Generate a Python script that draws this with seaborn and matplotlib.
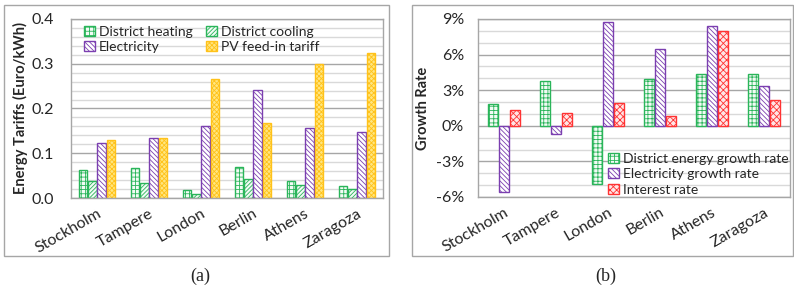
import matplotlib
matplotlib.use("Agg")
import matplotlib.pyplot as plt
import matplotlib.ticker as mticker
from matplotlib.patches import Rectangle
import pandas as pd
import seaborn as sns

cities = ["Stockholm", "Tampere", "London", "Berlin", "Athens", "Zaragoza"]

# panel (a) - energy tariffs, Euro/kWh
district_heating = [0.063, 0.068, 0.017, 0.070, 0.038, 0.027]
district_cooling = [0.038, 0.034, 0.010, 0.043, 0.028, 0.021]
electricity = [0.124, 0.133, 0.160, 0.241, 0.157, 0.148]
pv_feed_in = [0.130, 0.133, 0.266, 0.167, 0.299, 0.325]
tariff_names = ["District heating", "District cooling", "Electricity", "PV feed-in tariff"]

# panel (b) - growth rates, %
district_energy_growth = [1.8, 3.75, -4.9, 3.98, 4.4, 4.4]
electricity_growth = [-5.6, -0.7, 8.77, 6.5, 8.4, 3.36]
interest_rate = [1.3, 1.07, 1.9, 0.8, 7.96, 2.19]
growth_names = ["District energy growth rate", "Electricity growth rate", "Interest rate"]

sns.set_style("white")
plt.rcParams["font.family"] = ["Lato", "DejaVu Sans"]
plt.rcParams["hatch.linewidth"] = 0.6

# style per series: face, edge/hatch colour, hatch
styles_a = [("#f2fbf5", "#2ab55a", "++++"), ("#f2fbf5", "#2ab55a", "////////"),
            ("#ffffff", "#7b3fb0", "\\\\\\\\\\\\\\"), ("#ffe680", "#ffc21a", "xxxxxxx")]
styles_b = [("#f2fbf5", "#2ab55a", "++++"), ("#ffffff", "#7b3fb0", "\\\\\\\\\\\\\\"),
            ("#ffe6e6", "#ff3333", "xxxxx")]

df_a = pd.DataFrame({"city": cities * 4,
                     "series": [n for n in tariff_names for _ in cities],
                     "value": district_heating + district_cooling + electricity + pv_feed_in})
df_b = pd.DataFrame({"city": cities * 3,
                     "series": [n for n in growth_names for _ in cities],
                     "value": district_energy_growth + electricity_growth + interest_rate})

fig = plt.figure(figsize=(7.94, 2.91), dpi=100)
ax1 = fig.add_axes([71 / 794, 1 - 198 / 291, 312 / 794, 179 / 291])
ax2 = fig.add_axes([478 / 794, 1 - 197 / 291, 312 / 794, 178 / 291])

# outer frames of both panels
for x0, x1 in [(4, 389), (412, 793)]:
    fig.patches.append(Rectangle((x0 / 794, 1 - 256 / 291), (x1 - x0) / 794, 251 / 291,
                                 transform=fig.transFigure, fill=False,
                                 edgecolor="#a6a6a6", linewidth=1.0))


def style_bars(ax, styles):
    for cont, (fc, ec, hatch) in zip(ax.containers, styles):
        for bar in cont:
            bar.set_facecolor(fc)
            bar.set_edgecolor(ec)
            bar.set_hatch(hatch)
            bar.set_linewidth(1.0)


def style_axes(ax, major, minor, ypad):
    ax.yaxis.set_major_locator(mticker.MultipleLocator(major))
    ax.yaxis.set_minor_locator(mticker.MultipleLocator(minor))
    ax.grid(True, axis="y", which="major", color="#a6a6a6", linewidth=1.0, zorder=0)
    ax.grid(True, axis="y", which="minor", color="#d9d9d9", linewidth=1.0, zorder=0)
    ax.set_axisbelow(True)
    for s in ax.spines.values():
        s.set_color("#a6a6a6")
        s.set_linewidth(1.0)
    ax.tick_params(axis="y", which="both", length=0, labelsize=11.5, pad=ypad)
    ax.tick_params(axis="x", length=0, labelsize=11.5, pad=6)
    for lbl in ax.get_xticklabels():
        lbl.set_rotation(30)
        lbl.set_ha("right")
        lbl.set_rotation_mode("anchor")
    ax.set_xlabel("")


sns.barplot(data=df_a, x="city", y="value", hue="series", ax=ax1,
            width=0.72, gap=0.06, legend=False)
style_bars(ax1, styles_a)
style_axes(ax1, 0.1, 0.02, 12)
ax1.set_ylim(0, 0.4)
ax1.yaxis.set_major_formatter(mticker.FormatStrFormatter("%.1f"))
ax1.set_ylabel("Energy Tariffs (Euro/kWh)", fontsize=10.5, fontweight="bold", labelpad=3)
c = ax1.containers
ax1.legend([c[0], c[2], c[1], c[3]],
           [tariff_names[0], tariff_names[2], tariff_names[1], tariff_names[3]],
           loc="upper left", ncol=2, frameon=False, fontsize=10,
           handlelength=0.75, handleheight=0.75, handletextpad=0.3,
           columnspacing=1.0, labelspacing=0.2, borderaxespad=0.1,
           bbox_to_anchor=(0.02, 1.0))

sns.barplot(data=df_b, x="city", y="value", hue="series", ax=ax2,
            width=0.64, gap=0.08, legend=False)
style_bars(ax2, styles_b)
style_axes(ax2, 3, 1, 10)
ax2.set_ylim(-6, 9)
ax2.yaxis.set_major_formatter(mticker.FuncFormatter(lambda v, p: f"{v:.0f}%"))
ax2.set_ylabel("Growth Rate", fontsize=10.5, fontweight="bold", labelpad=4)
ax2.legend(list(ax2.containers), growth_names, loc="lower right", frameon=False,
           fontsize=10, handlelength=0.75, handleheight=0.75, handletextpad=0.3,
           labelspacing=0.25, borderaxespad=0.0, borderpad=0.1,
           bbox_to_anchor=(1.0, 0.0))

fig.text(200 / 794, 1 - 276 / 291, "(a)", fontsize=13, family="Liberation Serif",
         ha="center", va="center")
fig.text(606 / 794, 1 - 276 / 291, "(b)", fontsize=13, family="Liberation Serif",
         ha="center", va="center")

fig.savefig("out.png", dpi=100)
